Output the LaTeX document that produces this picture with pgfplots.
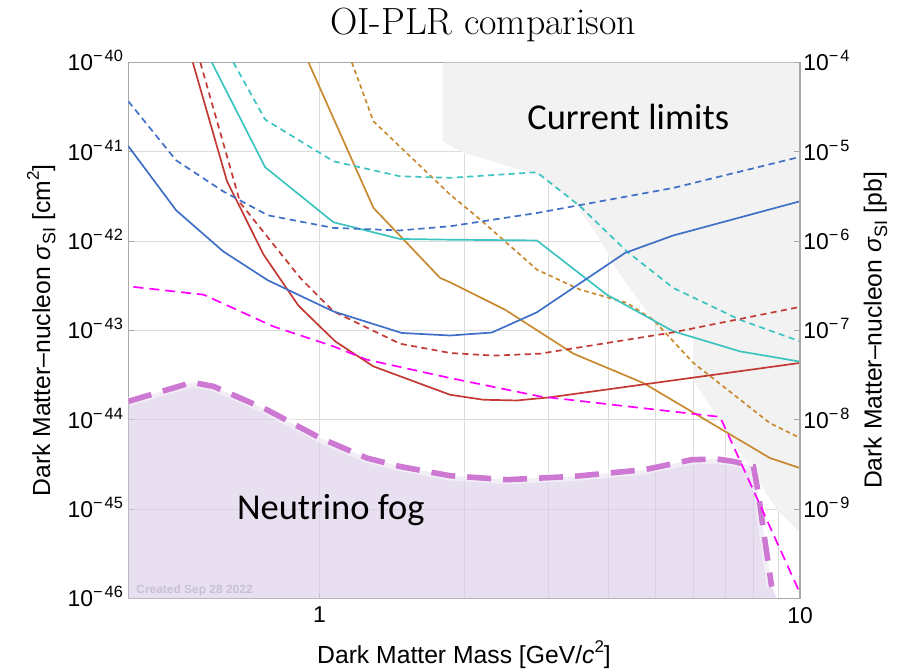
\documentclass[border=0pt]{standalone}
\usepackage{pgfplots}
\pgfplotsset{compat=1.18}
\usepackage{fontspec}
\newfontfamily\arial{Liberation Sans}
\newfontfamily\carlito{Carlito}
\definecolor{cblue}{HTML}{3F6FC6}
\definecolor{cred}{HTML}{C33A35}
\definecolor{ccyan}{HTML}{3DC4C0}
\definecolor{corange}{HTML}{C88A30}
\definecolor{cmag}{HTML}{FF00FF}
\definecolor{fogline}{HTML}{CD78D2}
\definecolor{fogfill}{HTML}{D9CBE6}
\definecolor{limgray}{HTML}{F2F2F2}
\definecolor{gridc}{HTML}{DCDCDC}
\definecolor{axisc}{HTML}{A8A8A8}
\definecolor{wmark}{HTML}{C9BFD9}
\newcommand{\tl}[1]{10\raisebox{4.5bp}{\fontsize{8.2}{8}\selectfont −\kern0.12em#1}}
\newcommand{\lsub}[1]{\raisebox{-0.22em}{\fontsize{9}{9}\selectfont #1}}
\begin{document}
\begin{tikzpicture}
\useasboundingbox (-64.15bp,-36.25bp) rectangle (388.35bp,299.25bp);
\begin{axis}[
  at={(0,0)}, anchor=south west, scale only axis,
  width=335.85bp, height=268bp,
  xmode=log, ymode=log, xmin=0.4, xmax=10, ymin=1e-46, ymax=1e-40,
  xtick={1,10}, xticklabels={1,10},
  ytick={1e-46,1e-45,1e-44,1e-43,1e-42,1e-41,1e-40},
  yticklabels={\tl{46},\tl{45},\tl{44},\tl{43},\tl{42},\tl{41},\tl{40}},
  xtick pos=left, ytick pos=left,
  yminorticks=false,
  xminorgrids, xmajorgrids, ymajorgrids,
  grid style={draw=gridc, line width=0.5bp},
  minor grid style={draw=gridc, line width=0.5bp},
  major grid style={draw=gridc, line width=0.5bp},
  axis line style={draw=axisc, line width=0.6bp},
  tick style={draw=axisc, line width=0.5bp},
  tick align=inside, major tick length=3bp, minor tick length=0bp,
  tick label style={font=\arial\fontsize{11.5}{12}\selectfont},
  yticklabel style={anchor=base east, inner sep=0pt, xshift=-2.5bp, yshift=-4.2bp},
  xticklabel style={anchor=north, inner sep=0pt, yshift=-4.1bp},
]
% current limits region
\addplot[fill=limgray, draw=none] coordinates {
 (1.806,1e-40) (1.806,1.315e-41) (1.99,9.8e-42) (2.834,5.57e-42) (3.377,2.8e-42)
 (3.777,1.19e-42) (4.157,4.81e-43) (5.115,1.02e-43) (5.99,1.02e-43) (5.99,2.82e-44)
 (8.96,9.86e-46) (10,5.46e-46) (10,1e-40)} -- cycle;
% neutrino fog
\addplot[fill=fogfill, fill opacity=0.6, draw=none] coordinates {
 (0.4,1e-46) (0.4,1.61e-44) (0.543,2.63e-44) (0.602,2.37e-44) (0.777,1.30e-44)
 (1.003,6.27e-45) (1.255,3.74e-45) (1.47,3.01e-45) (1.87,2.37e-45) (2.454,2.14e-45)
 (3.377,2.33e-45) (4.75,2.77e-45) (5.95,3.58e-45) (6.71,3.65e-45) (7.27,3.43e-45)
 (8.0,3.01e-45) (8.19,1.52e-45) (8.39,5.89e-46) (8.73,1.36e-46) (8.95,1e-46)} -- cycle;
\addplot[white, line width=4.6bp, opacity=0.45] coordinates {
 (0.4,1.61e-44) (0.543,2.63e-44) (0.602,2.37e-44) (0.777,1.30e-44)
 (1.003,6.27e-45) (1.255,3.74e-45) (1.47,3.01e-45) (1.87,2.37e-45) (2.454,2.14e-45)
 (3.377,2.33e-45) (4.75,2.77e-45) (5.95,3.58e-45) (6.71,3.65e-45) (7.27,3.43e-45)
 (8.0,3.01e-45) (8.19,1.52e-45) (8.39,5.89e-46) (8.73,1.36e-46)};
\addplot[fogline, line width=2.8bp, dash pattern=on 12bp off 6bp] coordinates {
 (0.4,1.61e-44) (0.543,2.63e-44) (0.602,2.37e-44) (0.777,1.30e-44)
 (1.003,6.27e-45) (1.255,3.74e-45) (1.47,3.01e-45) (1.87,2.37e-45) (2.454,2.14e-45)
 (3.377,2.33e-45) (4.75,2.77e-45) (5.95,3.58e-45) (6.71,3.65e-45) (7.27,3.43e-45)
 (8.0,3.01e-45) (8.19,1.52e-45) (8.39,5.89e-46) (8.73,1.36e-46)};
% orange
\addplot[corange, line width=0.85bp] coordinates {
 (0.949,1e-40) (1.295,2.36e-42) (1.783,3.88e-43) (1.87,3.47e-43) (2.434,1.71e-43)
 (3.377,5.51e-44) (4.72,2.59e-44) (8.66,3.74e-45) (10,2.89e-45)};
\addplot[corange, line width=0.85bp, dash pattern=on 2.2bp off 1.7bp] coordinates {
 (1.168,1e-40) (1.295,2.2e-41) (1.87,3.33e-42) (2.16,1.75e-42) (2.834,4.81e-43)
 (3.486,2.87e-43) (4.36,2.04e-43) (4.95,1.32e-43) (6.0,4.34e-44) (8.66,9.2e-45) (10,6.27e-45)};
% cyan
\addplot[ccyan, line width=0.85bp] coordinates {
 (0.597,1e-40) (0.771,6.73e-42) (1.069,1.63e-42) (1.47,1.06e-42) (1.87,1.04e-42)
 (2.834,1.02e-42) (3.963,2.52e-43) (5.45,9.8e-44) (7.5,5.85e-44) (10,4.49e-44)};
\addplot[ccyan, line width=0.85bp, dash pattern=on 3bp off 2.2bp] coordinates {
 (0.662,1e-40) (0.771,2.3e-41) (1.069,7.85e-42) (1.47,5.33e-42) (1.87,5.12e-42)
 (2.834,5.92e-42) (3.486,2.46e-42) (4.36,7.71e-43) (5.45,3.0e-43) (7.5,1.32e-43) (10,7.57e-44)};
% red
\addplot[cred, line width=0.85bp] coordinates {
 (0.545,1e-40) (0.642,4.69e-42) (0.765,7.08e-43) (0.904,1.9e-43) (1.078,7.57e-44)
 (1.295,3.97e-44) (1.87,1.91e-44) (2.194,1.68e-44) (2.575,1.65e-44) (3.02,1.79e-44) (10,4.34e-44)};
\addplot[cred, line width=0.85bp, dash pattern=on 3bp off 2.2bp] coordinates {
 (0.565,1e-40) (0.684,2.69e-42) (0.777,1.14e-42) (0.912,3.88e-43) (1.069,1.64e-43)
 (1.47,7.13e-44) (1.87,5.61e-44) (2.30,5.24e-44) (2.878,5.51e-44) (5.45,9.55e-44) (10,1.84e-43)};
% blue
\addplot[cblue, line width=0.85bp] coordinates {
 (0.4,1.16e-41) (0.503,2.22e-42) (0.63,7.71e-43) (0.781,3.65e-43) (1.068,1.64e-43)
 (1.483,9.4e-44) (1.87,8.8e-44) (2.284,9.5e-44) (2.834,1.6e-43) (4.325,7.4e-43)
 (5.45,1.16e-42) (10,2.8e-42)};
\addplot[cblue, line width=0.85bp, dash pattern=on 3.2bp off 2.2bp] coordinates {
 (0.4,3.69e-41) (0.503,8.05e-42) (0.63,3.62e-42) (0.781,1.95e-42) (1.069,1.41e-42)
 (1.47,1.32e-42) (1.87,1.47e-42) (2.834,2.07e-42) (5.45,3.95e-42) (10,8.79e-42)};
% magenta
\addplot[cmag, line width=0.85bp, dash pattern=on 5bp off 3bp] coordinates {
 (0.41,3.08e-43) (0.574,2.52e-43) (0.802,1.11e-43) (1.069,6.65e-44) (1.255,4.72e-44)
 (1.87,2.94e-44) (2.878,1.83e-44) (5.03,1.30e-44) (6.82,1.08e-44) (10,1.15e-46)};
\end{axis}
\begin{axis}[
  at={(0,0)}, anchor=south west, scale only axis,
  width=335.85bp, height=268bp,
  xmode=log, xmin=0.4, xmax=10, ymode=log, ymin=1e-10, ymax=1e-4,
  axis x line=none, axis y line*=right,
  ytick={1e-9,1e-8,1e-7,1e-6,1e-5,1e-4},
  yticklabels={\tl{9},\tl{8},\tl{7},\tl{6},\tl{5},\tl{4}},
  yminorticks=false,
  axis line style={draw=axisc, line width=0.6bp, -},
  tick style={draw=axisc, line width=0.5bp},
  tick align=inside, major tick length=3bp,
  tick label style={font=\arial\fontsize{11.5}{12}\selectfont},
  yticklabel style={anchor=base west, inner sep=0pt, xshift=1.5bp, yshift=-4.2bp},
]
\addplot[draw=none] coordinates {(1,1e-7)};
\end{axis}
% titles and labels
\node[anchor=base, inner sep=0pt, font=\fontsize{19}{21}\selectfont] at (177.4bp,281.75bp) {OI-PLR comparison};
\node[anchor=base, inner sep=0pt, font=\arial\fontsize{12.4}{14}\selectfont] at (167.85bp,-32.4bp) {Dark Matter Mass [GeV/\textit{c}\raisebox{0.45em}{\fontsize{8.5}{9}\selectfont 2}]};
\node[anchor=base, inner sep=0pt, rotate=90, font=\arial\fontsize{12.4}{14}\selectfont] at (-39.15bp,134bp) {Dark Matter–nucleon \textit{σ}\lsub{SI} [cm\raisebox{0.45em}{\fontsize{8.5}{9}\selectfont 2}]};
\node[anchor=base, inner sep=0pt, rotate=90, font=\arial\fontsize{12.4}{14}\selectfont] at (376.7bp,134bp) {Dark Matter–nucleon \textit{σ}\lsub{SI} [pb]};
\node[anchor=base west, inner sep=0pt, font=\carlito\fontsize{18.3}{20}\selectfont] at (199.35bp,234.25bp) {Current limits};
\node[anchor=base west, inner sep=0pt, font=\carlito\fontsize{18.3}{20}\selectfont] at (54.2bp,39.25bp) {Neutrino fog};
\node[anchor=base west, inner sep=0pt, text=wmark, font=\arial\bfseries\fontsize{6}{7}\selectfont] at (3.85bp,2.6bp) {Created Sep 28 2022};
\end{tikzpicture}
\end{document}
